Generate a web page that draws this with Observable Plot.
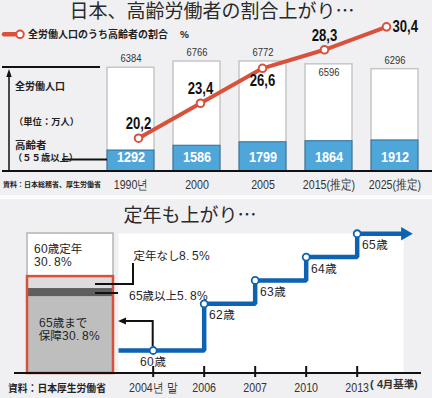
<!DOCTYPE html>
<html><head><meta charset="utf-8">
<script src="https://cdn.jsdelivr.net/npm/d3@7"></script>
<script src="https://cdn.jsdelivr.net/npm/@observablehq/plot@0.6"></script>
<style>
@font-face{font-family:"LatinMetric";src:local("Liberation Sans");unicode-range:U+0000-00FF;}
@font-face{font-family:"LatinMetric";src:local("Liberation Sans Bold");font-weight:bold;unicode-range:U+0000-00FF;}
html,body{margin:0;padding:0;background:#f0f0f2;}
#wrap{position:relative;width:432px;height:398px;overflow:hidden;background:#f0f0f2;font-family:"LatinMetric","Noto Sans CJK JP",sans-serif;}
#wrap > *{position:absolute;}
.title{font-size:19px;line-height:22px;color:#2a2a2a;text-align:center;white-space:nowrap;}
svg{display:block;}
</style>
</head><body>
<div id="wrap">
  <div class="title" style="left:0;top:1px;width:424px;">日本、高齢労働者の割合上がり…</div>
  <div style="left:0;top:195px;width:432px;height:3.5px;background:#fcfcfd;"></div>
  <div class="title" style="left:0;top:205px;width:380px;">定年も上がり…</div>
  <div id="topBars" style="left:0;top:0;"></div>
  <div id="topLine" style="left:0;top:0;"></div>
  <div id="botStep" style="left:0;top:196px;"></div>
  <div id="botStack" style="left:0;top:196px;"></div>
  <div id="deco" style="left:0;top:0;"></div>
</div>
<script>
// ---------- data ----------
const years = ["1990년", "2000", "2005", "2015(推定)", "2025(推定)"];
const totalWorkers = [6384, 6766, 6772, 6596, 6296];
const olderWorkers = [1292, 1586, 1799, 1864, 1912];
const olderShare = [20.2, 23.4, 26.6, 28.3, 30.4];

const stepYears = ["2004년 말", "2006", "2007", "2010", "2013"];
const retireAge = [60, 62, 63, 64, 65];

const policyNames = ["65歳まで保障", "65歳以上", "定年なし", "60歳定年"];
const policyShares = [54.9, 5.8, 8.5, 30.8];
const policyLabels = ["65歳まで\n保障30. 8%", "65歳以上5. 8%", "定年なし8. 5%", "60歳定年\n30. 8%"];

// ---------- styles ----------
const SANS = '"Liberation Sans",Arial,sans-serif';
const CJK = '"LatinMetric","Noto Sans CJK JP",sans-serif';
const RED = "#d8523b", BLUE = "#0d63b1", SKY = "#4fa6d8";

// condense text horizontally around its anchor (the reference uses a narrow face)
function narrow(svg, selector, k = 0.82) {
  svg.querySelectorAll(selector).forEach(t => {
    const tr = t.getAttribute("transform");
    if (tr) t.setAttribute("transform", tr + ` scale(${k},1)`);
    else {
      const x = +(t.getAttribute("x") || 0), y = +(t.getAttribute("y") || 0);
      t.removeAttribute("x"); t.removeAttribute("y");
      t.setAttribute("transform", `translate(${x},${y}) scale(${k},1)`);
    }
  });
}

const rows = years.map((y, i) => ({year: y, total: totalWorkers[i], older: olderWorkers[i], share: olderShare[i]}));
const fmtPct = v => v.toFixed(1).replace(".", ",");

const topDims = {width: 432, height: 195, marginTop: 20, marginBottom: 24, marginLeft: 106.5, marginRight: 14.5};
const xTop = {domain: years, paddingInner: 0.288, paddingOuter: 0};

const topBars = Plot.plot({
  ...topDims,
  style: {background: "transparent", fontFamily: SANS, overflow: "visible"},
  x: {...xTop, label: null},
  y: {domain: [0, 9292], axis: null},
  marks: [
    Plot.barY(rows, {x: "year", y: "total", fill: "white", stroke: "#c6c6c8", strokeWidth: 1.5}),
    Plot.barY(rows, {x: "year", y: "older", fill: SKY, stroke: "#2f6e98", strokeWidth: 1}),
    Plot.text(rows, {filter: d => d.year !== years[3], x: "year", y: "total", text: d => String(d.total), dy: -9, fontSize: 11.5, fill: "#333"}),
    Plot.text(rows, {filter: d => d.year === years[3], x: "year", y: "total", text: d => String(d.total), dy: 8, fontSize: 11.5, fill: "#333"}),
    Plot.text(rows, {x: "year", frameAnchor: "bottom", text: d => String(d.older), dy: -10, fill: "white", fontWeight: "bold", fontSize: 15.5}),
    Plot.axisX({tickSize: 0, tickPadding: 8, fontSize: 13, fill: "#333", label: null})
  ]
});
narrow(topBars, "text");
document.getElementById("topBars").append(topBars);

const topLine = Plot.plot({
  ...topDims,
  style: {background: "transparent", fontFamily: SANS, overflow: "visible"},
  x: {...xTop, axis: null},
  y: {domain: [17.15, 30.98], axis: null},
  marks: [
    Plot.line(rows, {x: "year", y: "share", stroke: RED, strokeWidth: 4}),
    Plot.dot(rows, {x: "year", y: "share", r: 3.8, fill: "white", stroke: RED, strokeWidth: 2}),
    Plot.text(rows, {filter: d => [0, 1, 3].includes(years.indexOf(d.year)), x: "year", y: "share", text: d => fmtPct(d.share), dy: -14, fontSize: 16, fontWeight: "bold", fill: "#111"}),
    Plot.text(rows, {filter: d => years.indexOf(d.year) === 2, x: "year", y: "share", text: d => fmtPct(d.share), dy: 13, fontSize: 16, fontWeight: "bold", fill: "#111"}),
    Plot.text(rows, {filter: d => years.indexOf(d.year) === 4, x: "year", y: "share", text: d => fmtPct(d.share), dx: 6, textAnchor: "start", fontSize: 16, fontWeight: "bold", fill: "#111"})
  ]
});
narrow(topLine, "text");
document.getElementById("topLine").append(topLine);

// ---------- bottom: retirement age steps ----------
const botDims = {width: 432, height: 202, marginTop: 37, marginBottom: 25};
const stepRows = stepYears.map((y, i) => ({i, year: y, age: retireAge[i]}));
const xStepDomain = [-0.68, 4.908];   // frame spans a little before the first and after the last step
const stepPath = [
  {i: xStepDomain[0], age: retireAge[0]},
  ...stepRows,
  {i: xStepDomain[1], age: retireAge[retireAge.length - 1]}
];
const botStep = Plot.plot({
  ...botDims, marginLeft: 118, marginRight: 29,
  style: {background: "transparent", fontFamily: SANS, overflow: "visible"},
  x: {domain: xStepDomain, label: null},
  y: {domain: [59.015, 65.01], axis: null},
  marks: [
    Plot.frame({fill: "white", stroke: null}),
    Plot.ruleX(stepRows, {x: "i", stroke: "#111", strokeWidth: 2, insetTop: 133, insetBottom: -4}),
    Plot.axisX({ticks: stepRows.map(d => d.i), tickFormat: i => stepYears[i], tickSize: 0, tickPadding: 9, fontSize: 13, fill: "#333", label: null}),
    Plot.text([stepRows[4]], {x: "i", frameAnchor: "bottom", text: () => "( 4月基準)", dx: 12.5, dy: 14, textAnchor: "start", fontSize: 10.5, fontWeight: "bold", fill: "#333", fontFamily: CJK}),
    Plot.line(stepPath, {x: "i", y: "age", curve: "step-after", stroke: BLUE, strokeWidth: 4.5, strokeLinejoin: "miter", strokeLinecap: "butt"}),
    Plot.dot(stepPath.slice(-1), {x: "i", y: "age", symbol: "triangle", rotate: 90, r: 5, fill: BLUE, dx: 1.5}),
    Plot.dot(stepRows, {x: "i", y: "age", r: 3.5, fill: "white", stroke: BLUE, strokeWidth: 1.8}),
    Plot.text(stepRows.slice(1), {x: "i", y: "age", text: d => d.age + "歳", textAnchor: "start", dx: 5, dy: 12, fontSize: 11.5, fill: "#222", fontFamily: CJK}),
    Plot.text([stepRows[0]], {x: "i", y: "age", text: d => d.age + "歳", dy: 12, fontSize: 11.5, fill: "#222", fontFamily: CJK})
  ]
});
narrow(botStep, 'g[aria-label="x-axis tick label"] text');
document.getElementById("botStep").append(botStep);

// ---------- bottom: stacked policy bar (drawn above the step panel) ----------
let cum = 0;
const policyRows = policyNames.map((n, i) => {
  const r = {name: n, cat: "2004", y1: cum, y2: cum + policyShares[i], label: policyLabels[i]};
  cum += policyShares[i];
  r.mid = (r.y1 + r.y2) / 2;
  return r;
});
const guaranteed = [{cat: "2004", top: d3.sum(policyShares.slice(0, 3))}];
const lab = (name, dx, dy) => Plot.text(policyRows, {filter: d => d.name === name, frameAnchor: "left", y: "mid", text: "label", textAnchor: "start", dx, dy, fontSize: 11.5, lineHeight: 1.2, fill: "#222", fontFamily: CJK});

const botStack = Plot.plot({
  ...botDims, marginLeft: 27.3, marginRight: 318.7,
  style: {background: "transparent", overflow: "visible"},
  x: {domain: ["2004"], padding: 0, axis: null},
  y: {domain: [0, 100], axis: null},
  color: {domain: policyNames, range: ["#bebebe", "#5e5e5e", "#dcdcdc", "#ffffff"]},
  marks: [
    Plot.barY(policyRows, {x: "cat", y1: "y1", y2: "y2", fill: "name"}),
    Plot.barY(policyRows, {filter: d => d.name === policyNames[3], x: "cat", y1: "y1", y2: "y2", fill: "none", stroke: "#b4b4b4", strokeWidth: 1.5}),
    Plot.barY(guaranteed, {x: "cat", y1: 0, y2: "top", fill: "none", stroke: "#d9503a", strokeWidth: 2.5}),
    lab(policyNames[3], 6, 0),
    lab(policyNames[0], 11, -6),
    lab(policyNames[2], 105.7, -27),
    lab(policyNames[1], 100.7, 3)
  ]
});
document.getElementById("botStack").append(botStack);

// ---------- decorations (annotation lines & captions) ----------
document.getElementById("deco").innerHTML = `
<svg width="432" height="398" style="overflow:visible;pointer-events:none" font-family='"LatinMetric","Noto Sans CJK JP",sans-serif'>
  <g stroke="#111" fill="none">
    <line x1="2" y1="67" x2="100" y2="67" stroke-width="2"/>
    <line x1="9" y1="171" x2="9" y2="75" stroke-width="1.5"/>
    <line x1="2" y1="171" x2="432" y2="171" stroke-width="2"/>
    <line x1="62" y1="159.5" x2="107" y2="159.5" stroke-width="2"/>
    <line x1="14" y1="373" x2="421" y2="373" stroke-width="2"/>
    <polyline points="95,284 133,284 133,263" stroke-width="2"/>
    <line x1="95" y1="293" x2="118" y2="293" stroke-width="2"/>
    <polyline points="152.7,346 152.7,321 124,321" stroke-width="2"/>
  </g>
  <polygon points="9,69 6.3,77 11.7,77" fill="#111"/>
  <polygon points="118,321 126,317.5 126,324.5" fill="#111"/>
  <line x1="4" y1="34.3" x2="17" y2="34.3" stroke="${RED}" stroke-width="4.5" stroke-linecap="round"/>
  <circle cx="20" cy="34.3" r="3.8" fill="white" stroke="${RED}" stroke-width="2"/>
  <g fill="#222" font-weight="bold" dominant-baseline="central">
    <text x="28" y="34.3" font-size="10">全労働人口のうち高齢者の割合</text>
    <text x="180" y="34.3" font-size="10">%</text>
    <text x="15" y="86.7" font-size="10">全労働人口</text>
    <text x="14" y="121.7" font-size="9.3">（単位：万人）</text>
    <text x="15" y="145.3" font-size="10.5">高齢者</text>
    <text x="13" y="158.2" font-size="9.3">（５５歳以上）</text>
    <text x="3" y="184" font-size="7">資料：日本総務省、厚生労働省</text>
    <text x="8" y="388.3" font-size="9.8">資料：日本厚生労働省</text>
  </g>
</svg>`;
</script>
</body></html>
